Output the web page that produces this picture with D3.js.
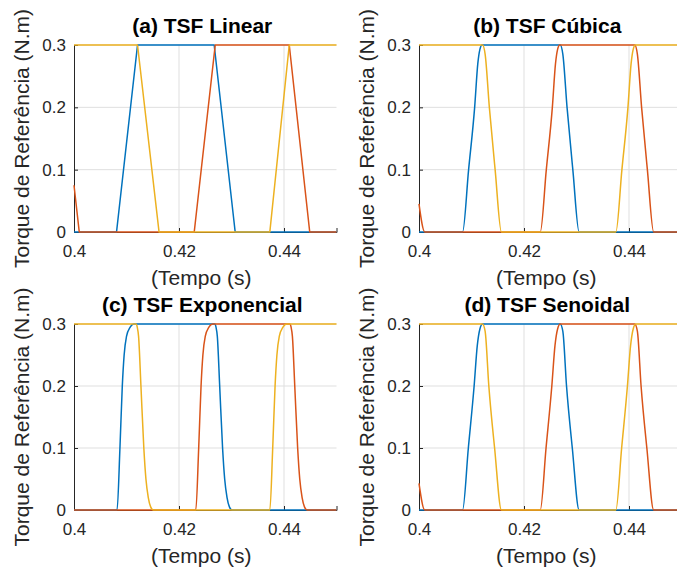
<!DOCTYPE html>
<html>
<head>
<meta charset="utf-8">
<script src="https://cdn.jsdelivr.net/npm/d3@7"></script>
<style>
  html, body { margin: 0; padding: 0; background: #ffffff; }
  svg { display: block; }
</style>
</head>
<body>
<svg id="chart" width="677" height="577"></svg>
<script>
// ---------------- DATA ----------------
const panelTitles = ["(a) TSF Linear", "(b) TSF Cúbica", "(c) TSF Exponencial", "(d) TSF Senoidal"];
const seriesNames = ["Fase A", "Fase B", "Fase C"];
const xTicks = [0.4, 0.42, 0.44];
const yTicks = [0, 0.1, 0.2, 0.3];
const xLabel = "(Tempo (s)";
const yLabel = "Torque de Referência (N.m)";

// (a) Linear TSF  [time (s), torque (N.m)]
const linearA = [[0.4,0],[0.4081,0],[0.4121,0.3],[0.4267,0.3],[0.4307,0],[0.45,0]];
const linearB = [[0.4,0.075],[0.4010,0],[0.4229,0],[0.4269,0.3],[0.4410,0.3],[0.4449,0],[0.45,0]];
const linearC = [[0.4,0.3],[0.4121,0.3],[0.4162,0],[0.4373,0],[0.4410,0.3],[0.45,0.3]];

// (b) Cubic TSF
const cubicA = [[0.4,0],[0.4083,0],[0.40945,0.1],[0.4106,0.2],[0.4112,0.27],[0.4116,0.293],[0.4120,0.3],
                [0.4269,0.3],[0.4274,0.285],[0.4282,0.2],[0.4293,0.1],[0.4305,0],[0.45,0]];
const cubicB = [[0.4,0.045],[0.4011,0],[0.4231,0],[0.42425,0.1],[0.4254,0.2],[0.4260,0.27],[0.4264,0.293],[0.4268,0.3],
                [0.4411,0.3],[0.4416,0.285],[0.4424,0.2],[0.4435,0.1],[0.4447,0],[0.45,0]];
const cubicC = [[0.4,0.3],[0.4121,0.3],[0.4126,0.285],[0.4134,0.2],[0.4145,0.1],[0.4157,0],
                [0.4375,0],[0.43865,0.1],[0.4398,0.2],[0.4404,0.27],[0.4408,0.293],[0.4412,0.3],[0.45,0.3]];

// (c) Exponential TSF
const expoA = [[0.4,0],[0.4082,0],[0.40875,0.1],[0.4092,0.2],[0.40955,0.25],[0.4100,0.28],[0.4107,0.295],[0.4114,0.3],
               [0.4268,0.3],[0.42705,0.295],[0.4273,0.28],[0.42775,0.2],[0.4283,0.1],[0.4287,0.05],[0.42915,0.02],[0.4296,0.005],[0.4301,0],[0.45,0]];
const expoB = [[0.4,0],[0.4232,0],[0.42375,0.1],[0.4242,0.2],[0.42455,0.25],[0.4250,0.28],[0.4257,0.295],[0.4264,0.3],
               [0.4411,0.3],[0.44135,0.295],[0.4416,0.28],[0.44205,0.2],[0.4426,0.1],[0.4430,0.05],[0.44345,0.02],[0.4439,0.005],[0.4444,0],[0.45,0]];
const expoC = [[0.4,0.3],[0.4118,0.3],[0.41205,0.295],[0.4123,0.28],[0.41275,0.2],[0.4133,0.1],[0.4137,0.05],[0.41415,0.02],[0.4146,0.005],[0.4151,0],
               [0.4373,0],[0.43785,0.1],[0.4383,0.2],[0.43865,0.25],[0.4391,0.28],[0.4398,0.295],[0.4405,0.3],[0.45,0.3]];

// (d) Sinusoidal TSF
const senoA = [[0.4,0],[0.4083,0],[0.4094,0.1],[0.4105,0.2],[0.4111,0.265],[0.4116,0.292],[0.4121,0.3],
               [0.4269,0.3],[0.4274,0.288],[0.4281,0.2],[0.4292,0.1],[0.4305,0],[0.45,0]];
const senoB = [[0.4,0.043],[0.4011,0],[0.4231,0],[0.4242,0.1],[0.4253,0.2],[0.4259,0.265],[0.4264,0.292],[0.4269,0.3],
               [0.4411,0.3],[0.4416,0.288],[0.4423,0.2],[0.4434,0.1],[0.4447,0],[0.45,0]];
const senoC = [[0.4,0.3],[0.4121,0.3],[0.4126,0.288],[0.4133,0.2],[0.4144,0.1],[0.4157,0],
               [0.4375,0],[0.4386,0.1],[0.4397,0.2],[0.4403,0.265],[0.4408,0.292],[0.4413,0.3],[0.45,0.3]];

// ---------------- LAYOUT / STYLE ----------------
const colors = ["#0072BD", "#D95319", "#EDB120"];
const axisColor = "#262626";
const gridColor = "#dfdfdf";
const fontFamily = "'Liberation Sans', Arial, Helvetica, sans-serif";

const panels = [
  { title: panelTitles[0], data: [linearA, linearB, linearC], curve: d3.curveLinear,     left: 74,  top: 45,  bottom: 232 },
  { title: panelTitles[1], data: [cubicA, cubicB, cubicC],    curve: d3.curveMonotoneX, left: 419, top: 45,  bottom: 232 },
  { title: panelTitles[2], data: [expoA, expoB, expoC],       curve: d3.curveMonotoneX, left: 74,  top: 324, bottom: 510 },
  { title: panelTitles[3], data: [senoA, senoB, senoC],       curve: d3.curveMonotoneX, left: 419, top: 324, bottom: 510 }
];
const plotWidth = 262.5;

const svg = d3.select("#chart");

panels.forEach(p => {
  const x = d3.scaleLinear().domain([0.4, 0.45]).range([p.left, p.left + plotWidth]);
  const y = d3.scaleLinear().domain([0, 0.3]).range([p.bottom, p.top]);
  const g = svg.append("g");

  // grid
  g.append("g").selectAll("line").data(xTicks.slice(1)).join("line")
    .attr("x1", d => x(d)).attr("x2", d => x(d))
    .attr("y1", p.top).attr("y2", p.bottom)
    .attr("stroke", gridColor).attr("stroke-width", 1);
  g.append("g").selectAll("line").data(yTicks.slice(1)).join("line")
    .attr("x1", p.left).attr("x2", p.left + plotWidth)
    .attr("y1", d => y(d)).attr("y2", d => y(d))
    .attr("stroke", gridColor).attr("stroke-width", 1);

  // axes (ticks pointing inward, as in MATLAB)
  const xAxis = d3.axisBottom(x).tickValues(xTicks).tickSize(-4).tickPadding(13)
    .tickFormat(d3.format("~g"));
  const yAxis = d3.axisLeft(y).tickValues(yTicks).tickSize(-4).tickPadding(8)
    .tickFormat(d3.format("~g"));

  const gx = g.append("g").attr("transform", `translate(0,${p.bottom})`).call(xAxis);
  const gy = g.append("g").attr("transform", `translate(${p.left},0)`).call(yAxis);
  [gx, gy].forEach(ax => {
    ax.select(".domain").attr("stroke", axisColor).attr("stroke-width", 1);
    ax.selectAll(".tick line").attr("stroke", axisColor);
    ax.selectAll(".tick text").attr("fill", axisColor)
      .style("font-family", fontFamily).style("font-size", "17px");
  });

  // lines
  const line = d3.line().x(d => x(d[0])).y(d => y(d[1])).curve(p.curve);
  p.data.forEach((s, i) => {
    g.append("path").datum(s)
      .attr("fill", "none")
      .attr("stroke", colors[i])
      .attr("stroke-width", 1.5)
      .attr("stroke-linejoin", "round")
      .attr("d", line)
      .append("title").text(seriesNames[i]);
  });

  // title
  g.append("text")
    .attr("x", p.left + plotWidth / 2 - 3).attr("y", p.top - 12)
    .attr("text-anchor", "middle")
    .style("font-family", fontFamily).style("font-size", "21px").style("font-weight", "bold")
    .attr("fill", "#000").text(p.title);

  // x label
  g.append("text")
    .attr("x", p.left + plotWidth / 2 - 4).attr("y", p.bottom + 53)
    .attr("text-anchor", "middle")
    .style("font-family", fontFamily).style("font-size", "21px")
    .attr("fill", axisColor).text(xLabel);

  // y label
  g.append("text")
    .attr("transform", `translate(${p.left - 52},${(p.top + p.bottom) / 2}) rotate(-90)`)
    .attr("text-anchor", "middle").attr("dy", "0.35em")
    .style("font-family", fontFamily).style("font-size", "21px")
    .attr("fill", axisColor).text(yLabel);
});
</script>
</body>
</html>
